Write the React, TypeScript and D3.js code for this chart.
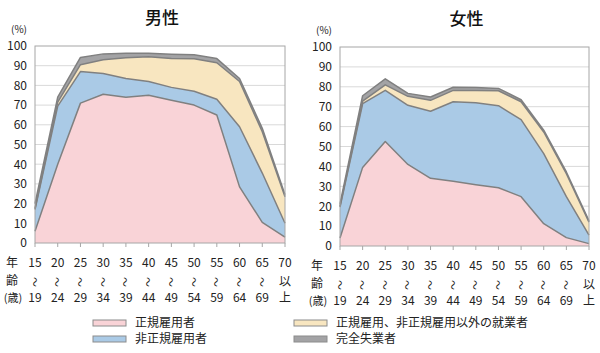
import React from "react";
import * as d3 from "d3";

const ageTop = ["15", "20", "25", "30", "35", "40", "45", "50", "55", "60", "65", "70"];
const ageMid = ["～", "～", "～", "～", "～", "～", "～", "～", "～", "～", "～", "以"];
const ageBottom = ["19", "24", "29", "34", "39", "44", "49", "54", "59", "64", "69", "上"];
const yTicks = [0, 10, 20, 30, 40, 50, 60, 70, 80, 90, 100];

const seriesKeys = ["regular", "nonRegular", "other", "unemployed"];
const seriesNames = ["正規雇用者", "非正規雇用者", "正規雇用、非正規雇用以外の就業者", "完全失業者"];
const seriesColors = ["#f9d3d7", "#aacae6", "#f8e6c0", "#a3a3a5"];

const menRegular = [6, 40, 71, 75.5, 74, 75, 72.5, 70, 65, 28.5, 10.5, 3];
const menNonRegular = [11, 29.5, 16, 10.5, 9.5, 7, 6.5, 7, 8, 30.5, 25, 7];
const menOther = [0.5, 2, 3.5, 7, 10.5, 12.5, 14.7, 16.5, 18.5, 23, 21, 13.5];
const menUnemployed = [2.5, 2.5, 3.7, 3, 2.3, 1.8, 2.1, 2, 2.1, 1.5, 1.7, 1];

const womenRegular = [4, 39.5, 52.5, 41, 34, 32.5, 30.8, 29.3, 24.8, 11.2, 4.2, 1.2];
const womenNonRegular = [15.5, 32, 25.7, 29.7, 33.7, 40, 41.2, 41.2, 38.7, 35.2, 20.6, 4.3];
const womenOther = [0.5, 1.3, 2.8, 4.5, 5.5, 5.7, 6.2, 7.5, 9, 10.9, 11.5, 6.5];
const womenUnemployed = [1.2, 2.7, 3, 1.5, 1.7, 1.6, 1.5, 1.2, 1, 0.9, 0.9, 0.6];

const FONT = "'Noto Sans CJK JP', 'Noto Sans', sans-serif";

type PanelProps = {
  title: string;
  series: number[][];
  left: number;
  right: number;
  top: number;
  bottom: number;
};

function Panel({ title, series, left, right, top, bottom }: PanelProps) {
  const rows = ageTop.map((_, i) => {
    const r: Record<string, number> = { i };
    seriesKeys.forEach((k, j) => (r[k] = series[j][i]));
    return r;
  });
  const stacked = d3.stack<Record<string, number>>().keys(seriesKeys)(rows);
  const x = d3.scaleLinear().domain([0, ageTop.length - 1]).range([left, right]);
  const y = d3.scaleLinear().domain([0, 100]).range([bottom, top]);
  const area = d3
    .area<d3.SeriesPoint<Record<string, number>>>()
    .x((d) => x(d.data.i))
    .y0((d) => y(d[0]))
    .y1((d) => y(d[1]));
  const topLine = d3
    .line<d3.SeriesPoint<Record<string, number>>>()
    .x((d) => x(d.data.i))
    .y((d) => y(d[1]));

  return (
    <g fontFamily={FONT}>
      <text x={(left + right) / 2 + 2} y={top - 22} textAnchor="middle" fontSize={17} fontWeight={500} fill="#111">
        {title}
      </text>
      <text x={left - 16} y={top - 13} textAnchor="middle" fontSize={10} fill="#222">
        (%)
      </text>
      {yTicks.map((t) => (
        <g key={t}>
          {t > 0 && t < 100 && (
            <line x1={left} x2={right} y1={y(t)} y2={y(t)} stroke="#d9d9d9" strokeWidth={1} />
          )}
          <text x={left - 8} y={y(t)} dy="0.36em" textAnchor="end" fontSize={12} fill="#222">
            {t}
          </text>
        </g>
      ))}
      {stacked.map((s, j) => (
        <path key={s.key} d={area(s) ?? ""} fill={seriesColors[j]} />
      ))}
      {stacked.map((s) => (
        <path
          key={"l" + s.key}
          d={topLine(s) ?? ""}
          fill="none"
          stroke="#808080"
          strokeWidth={1.5}
          strokeLinejoin="round"
        />
      ))}
      <rect x={left} y={top} width={right - left} height={bottom - top} fill="none" stroke="#a6a6a6" strokeWidth={1} />
      {ageTop.map((a, i) => (
        <g key={a}>
          <line x1={x(i)} x2={x(i)} y1={bottom} y2={bottom + 4} stroke="#a6a6a6" />
          <text x={x(i)} y={bottom + 24} textAnchor="middle" fontSize={12} fill="#222">
            {a}
          </text>
          {ageMid[i] === "～" ? (
            <text
              x={x(i)}
              y={bottom + 39}
              textAnchor="middle"
              dominantBaseline="central"
              fontSize={10}
              fill="#222"
              transform={`rotate(90, ${x(i)}, ${bottom + 39})`}
            >
              {ageMid[i]}
            </text>
          ) : (
            <text x={x(i)} y={bottom + 43} textAnchor="middle" fontSize={12} fill="#222">
              {ageMid[i]}
            </text>
          )}
          <text x={x(i)} y={bottom + 59} textAnchor="middle" fontSize={12} fill="#222">
            {ageBottom[i]}
          </text>
        </g>
      ))}
      <text x={left - 23} y={bottom + 24} textAnchor="middle" fontSize={12} fill="#222">年</text>
      <text x={left - 23} y={bottom + 42} textAnchor="middle" fontSize={12} fill="#222">齢</text>
      <text x={left - 22} y={bottom + 59} textAnchor="middle" fontSize={11} fill="#222">(歳)</text>
    </g>
  );
}

function Legend() {
  const items = [
    { k: 0, x: 93, y: 320 },
    { k: 1, x: 93, y: 336 },
    { k: 2, x: 294, y: 320 },
    { k: 3, x: 294, y: 336 },
  ];
  return (
    <g fontFamily={FONT}>
      {items.map((it) => (
        <g key={it.k}>
          <rect x={it.x} y={it.y} width={33} height={6} fill={seriesColors[it.k]} stroke="#8c8c8c" strokeWidth={1} />
          <text x={it.x + 42} y={it.y + 3} dy="0.36em" fontSize={12} fill="#222">
            {seriesNames[it.k]}
          </text>
        </g>
      ))}
    </g>
  );
}

export default function App() {
  return (
    <svg
      width={600}
      height={353}
      style={{ position: "absolute", left: 0, top: 0, background: "#fff" }}
    >
      <Panel
        title="男性"
        series={[menRegular, menNonRegular, menOther, menUnemployed]}
        left={35}
        right={285}
        top={46}
        bottom={243}
      />
      <Panel
        title="女性"
        series={[womenRegular, womenNonRegular, womenOther, womenUnemployed]}
        left={340}
        right={589}
        top={47}
        bottom={246}
      />
      <Legend />
    </svg>
  );
}
